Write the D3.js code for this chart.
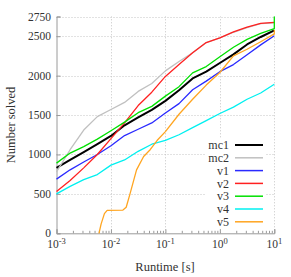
<!DOCTYPE html>
<html>
<head>
<meta charset="utf-8">
<script src="https://cdn.jsdelivr.net/npm/d3@7"></script>
<style>
  body { margin: 0; background: #fff; }
  svg text { font-family: "Liberation Serif", "DejaVu Serif", serif; fill: #333; font-weight: normal; }
</style>
</head>
<body>
<svg id="chart" width="291" height="277"></svg>
<script>
// runtimes as log10 exponents of seconds
var gridExp = [-3, -2.75, -2.5, -2.25, -2, -1.75, -1.5, -1.25, -1, -0.75, -0.5, -0.25, 0, 0.25, 0.5, 0.75, 1];

var mc1 = [829, 932, 1030, 1130, 1235, 1370, 1470, 1565, 1680, 1815, 1965, 2050, 2160, 2270, 2395, 2490, 2575];
var mc2 = [780, 1060, 1310, 1480, 1570, 1660, 1800, 1900, 2060, 2180, 2290, 2420, 2480, 2550, 2610, 2660, 2670];
var v1  = [687, 805, 905, 1000, 1110, 1240, 1320, 1400, 1525, 1645, 1820, 1930, 2050, 2140, 2265, 2390, 2505];
var v2  = [530, 670, 830, 1000, 1200, 1400, 1620, 1790, 1990, 2140, 2290, 2420, 2480, 2555, 2615, 2662, 2675];
var v3  = [890, 1018, 1100, 1195, 1300, 1410, 1530, 1610, 1740, 1860, 2035, 2115, 2240, 2360, 2460, 2535, 2595];
var v4  = [500, 595, 680, 745, 865, 930, 1040, 1130, 1180, 1250, 1340, 1430, 1520, 1600, 1700, 1780, 1890];

// v5 has its own runtime points (late start, plateau)
var v5Exp = [-2.22, -2.18, -2.12, -2.07, -1.78, -1.72, -1.65, -1.53, -1.4, -1.28, -1.15, -1, -0.75, -0.5, -0.25, 0, 0.25, 0.5, 0.75, 1, 1];
var v5    = [0, 120, 250, 290, 295, 330, 500, 805, 974, 1060, 1180, 1290, 1510, 1700, 1880, 2040, 2250, 2335, 2430, 2530, 2580];

// v3 jumps at the timeout
var v3End = 2750;

var seriesNames = ["mc1", "mc2", "v1", "v2", "v3", "v4", "v5"];
var seriesColors = ["#000000", "#c0c0c0", "#2a2aff", "#ff2020", "#00e000", "#00f0f0", "#ffa520"];
var seriesWidths = [2, 1.3, 1.3, 1.3, 1.3, 1.3, 1.3];

var yTicks = [0, 500, 1000, 1500, 2000, 2500, 2750];
var xTicks = [1e-3, 1e-2, 1e-1, 1, 10];
var xTickExp = ["-3", "-2", "-1", "0", "1"];

var svg = d3.select("#chart");

var x = d3.scaleLog().domain([1e-3, 10]).range([56.5, 274.3]);
var y = d3.scaleLinear().domain([0, 2750]).range([233.3, 16.5]);

function toPoints(exps, vals){
	return exps.map(function(e, i){ return [Math.pow(10, e), vals[i]]; });
}

var data = [
	toPoints(gridExp, mc1),
	toPoints(gridExp, mc2),
	toPoints(gridExp, v1),
	toPoints(gridExp, v2),
	toPoints(gridExp, v3).concat([[10, v3End]]),
	toPoints(gridExp, v4),
	toPoints(v5Exp, v5)
];

// grid
var grid = svg.append("g").attr("stroke", "#c4c4c4").attr("stroke-dasharray", "1,2").attr("stroke-width", 1);
grid.selectAll("line.h").data(yTicks.slice(1)).enter().append("line")
	.attr("x1", x(1e-3)).attr("x2", x(10))
	.attr("y1", function(d){ return Math.round(y(d)) + 0.5; })
	.attr("y2", function(d){ return Math.round(y(d)) + 0.5; });
grid.selectAll("line.v").data(xTicks.slice(1)).enter().append("line")
	.attr("y1", y(0)).attr("y2", y(2750))
	.attr("x1", function(d){ return Math.round(x(d)) + 0.5; })
	.attr("x2", function(d){ return Math.round(x(d)) + 0.5; });

// axes
var xMinor = [];
for (var e = -3; e < 1; e++) {
	for (var k = 2; k <= 9; k++) xMinor.push(k * Math.pow(10, e));
}
svg.append("g").attr("transform", "translate(0," + y(0) + ")")
	.call(d3.axisBottom(x).tickValues(xTicks).tickSize(-4).tickFormat(""));
svg.append("g").attr("transform", "translate(0," + y(0) + ")")
	.call(d3.axisBottom(x).tickValues(xMinor).tickSize(-2.5).tickFormat(""))
	.select(".domain").remove();
svg.append("g").attr("transform", "translate(" + x(1e-3) + ",0)")
	.call(d3.axisLeft(y).tickValues(yTicks).tickSize(-4).tickFormat(""));
svg.selectAll(".domain, .tick line").attr("stroke", "#9a9a9a");

// y tick labels
svg.append("g").selectAll("text").data(yTicks).enter().append("text")
	.attr("x", 51).attr("y", function(d){ return y(d); })
	.attr("dy", "0.35em").attr("text-anchor", "end")
	.style("font-size", "11.5px")
	.text(function(d){ return d; });

// x tick labels with superscript
var xl = svg.append("g").selectAll("text").data(xTicks).enter().append("text")
	.attr("x", function(d){ return x(d); }).attr("y", 248)
	.attr("text-anchor", "middle")
	.style("font-size", "11.5px");
xl.append("tspan").text("10");
xl.append("tspan").attr("dy", -4.5).style("font-size", "8.5px")
	.text(function(d, i){ return xTickExp[i]; });

// axis titles
svg.append("text").attr("x", 165).attr("y", 271).attr("text-anchor", "middle")
	.style("font-size", "12.5px").text("Runtime [s]");
svg.append("text").attr("transform", "translate(15,125) rotate(-90)").attr("text-anchor", "middle")
	.style("font-size", "12.5px").text("Number solved");

// lines
var line = d3.line().x(function(d){ return x(d[0]); }).y(function(d){ return y(d[1]); });
svg.append("g").selectAll("path").data(data).enter().append("path")
	.attr("fill", "none")
	.attr("stroke", function(d, i){ return seriesColors[i]; })
	.attr("stroke-width", function(d, i){ return seriesWidths[i]; })
	.attr("stroke-linejoin", "round")
	.attr("d", line);

// legend
var legend = svg.append("g");
legend.append("rect").attr("x", 205).attr("y", 138).attr("width", 61).attr("height", 91).attr("fill", "#fff");
var rows = legend.selectAll("g.row").data(seriesNames).enter().append("g")
	.attr("transform", function(d, i){ return "translate(0," + (145 + i * 12.8) + ")"; });
rows.append("text").attr("x", 229).attr("dy", "0.35em").attr("text-anchor", "end")
	.style("font-size", "12px").text(function(d){ return d; });
rows.append("line").attr("x1", 235).attr("x2", 263)
	.attr("stroke", function(d, i){ return seriesColors[i]; })
	.attr("stroke-width", function(d, i){ return i === 0 ? 2 : 1.5; });
</script>
</body>
</html>
